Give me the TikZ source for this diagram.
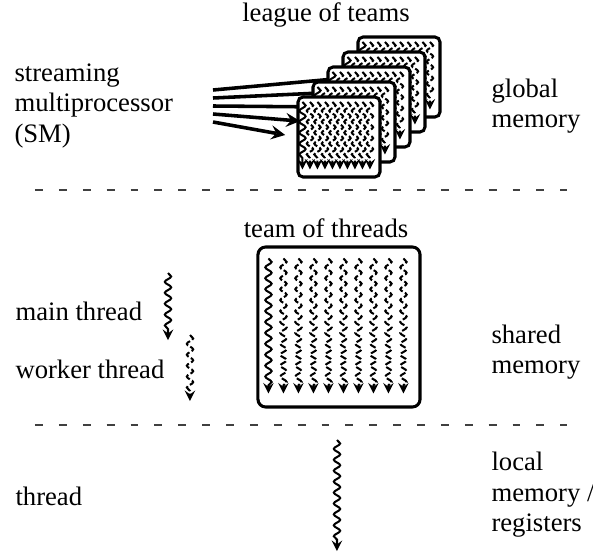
\documentclass[tikz,border=0pt]{standalone}
\usepackage{fontspec}
\setmainfont{Liberation Serif}
\usetikzlibrary{arrows}
\usetikzlibrary{decorations.pathmorphing}
\usetikzlibrary{backgrounds}

\tikzset{
  thrd/.style={decorate,decoration={snake,amplitude=1.25pt,segment length=4.3pt,post length=2.5pt},->,>=stealth},
  mainthrd/.style={thrd,thick},
  workerthrd/.style={thrd,thick,dash pattern=on 2.5pt off 1pt},
  teambox/.style={draw,very thick,rounded corners=3pt,fill=white,inner sep=0pt,minimum width=63.8pt,minimum height=63pt},
  card/.style={teambox,rounded corners=2pt,minimum width=32.3pt,minimum height=31.5pt},
  lbl/.style={anchor=west,align=left,inner sep=0pt},
  sep/.style={line width=0.6pt,black!75,dash pattern=on 3.1pt off 6.3pt},
}

% one team: a main thread and nine worker threads
\newcommand{\threadcols}{%
  \draw[mainthrd] (12,13) -- (12,148);
  \foreach \c in {1,...,9}
    \draw[workerthrd] (12+15*\c,13) -- (12+15*\c,148);
}

\begin{document}
\begin{tikzpicture}[x=0.3937pt,y=-0.3937pt,font=\fontsize{10.5}{12}\selectfont]
  \useasboundingbox (0,0) rectangle (593,554);

  % league of teams
  \node (league) at (326,15) {league of teams};
  \foreach \k in {5,...,1} {
    \node[card] (card\k) at ({339+15*(\k-1)},{137-15*(\k-1)}) {};
    \begin{scope}[shift={(card\k.north west)},scale=0.5]
      \threadcols
    \end{scope}
  }
  \node[lbl] (sm) at (14,106) {streaming\\multiprocessor\\(SM)};
  \node[lbl] (glob) at (491,106) {global\\memory};
  \foreach \k in {1,...,5}
    \coordinate (sm\k) at (213,{130-8*\k});
  \begin{scope}[on background layer]
    \fill[white] (0,0) rectangle (593,554);
    \foreach \k in {1,...,5}
      \draw[line width=1.4pt,->,>=stealth,shorten >=4.5pt] (sm\k) -- (card\k.west);
  \end{scope}

  \coordinate (sepa) at (35,190);
  \coordinate (sepb) at (567,190);
  \draw[sep] (sepa) -- (sepb);

  % team of threads
  \node (teamlbl) at (326,228) {team of threads};
  \node[teambox] (team) at (339,327) {};
  \begin{scope}[shift={(team.north west)}]
    \threadcols
  \end{scope}
  \node[lbl] (mainlbl) at (15,311) {main thread};
  \node[lbl] (workerlbl) at (15,369) {worker thread};
  \draw[mainthrd] (168,273) -- (168,340);
  \draw[workerthrd] (190,335) -- (190,401);
  \node[lbl] (shared) at (491,352) {shared\\memory};

  \coordinate (sepc) at (35,425);
  \coordinate (sepd) at (567,425);
  \draw[sep] (sepc) -- (sepd);

  % single thread
  \node[lbl] (thrdlbl) at (15,496) {thread};
  \draw[mainthrd] (337,440) -- (337,551);
  \node[lbl] (local) at (491,495) {local\\memory /\\registers};
\end{tikzpicture}
\end{document}
